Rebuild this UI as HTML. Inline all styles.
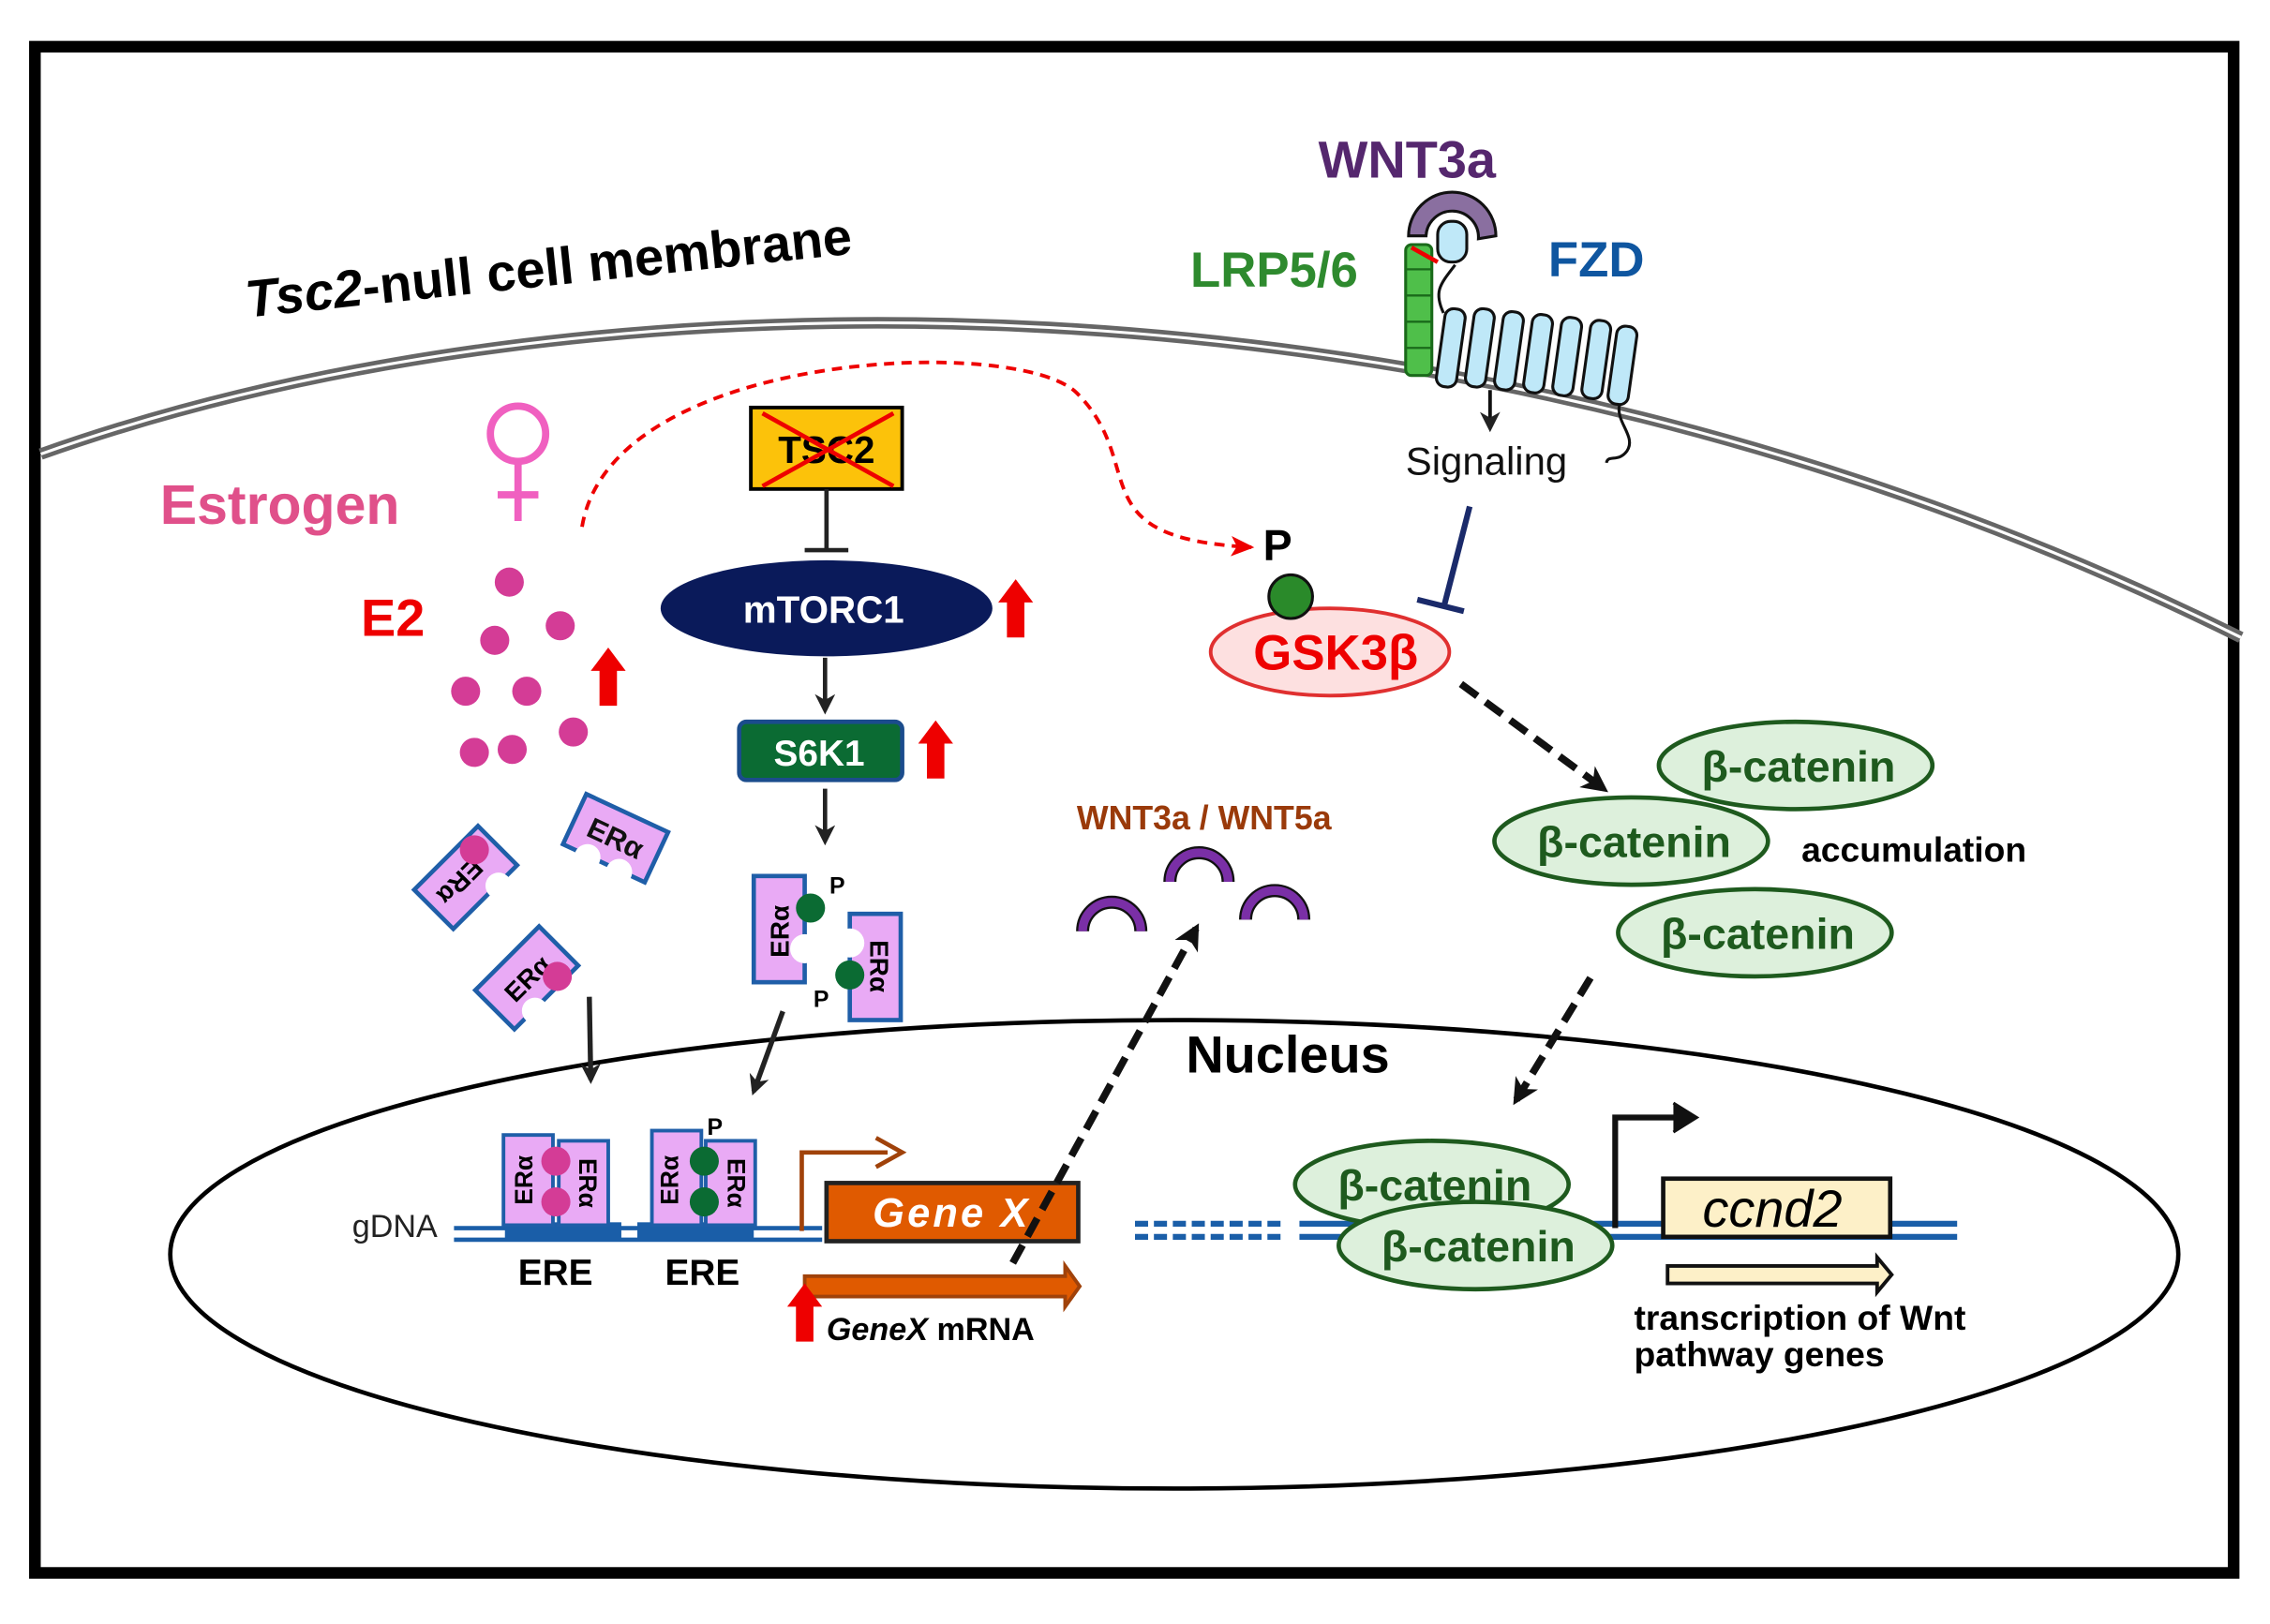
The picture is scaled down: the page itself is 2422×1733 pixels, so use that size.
<!DOCTYPE html>
<html><head><meta charset="utf-8"><style>html,body{margin:0;padding:0;background:#fff}svg{display:block}text{font-family:"Liberation Sans",sans-serif}</style></head>
<body>
<svg width="2422" height="1733" viewBox="0 0 1560 1116" xmlns="http://www.w3.org/2000/svg">
<defs>
<marker id="ab" markerWidth="14" markerHeight="14" refX="11" refY="7" orient="auto" markerUnits="userSpaceOnUse" viewBox="0 0 14 14"><path d="M0,0 L14,7 L0,14 L4,7z" fill="#222"/></marker>
<marker id="abk" markerWidth="18" markerHeight="18" refX="14" refY="9" orient="auto" markerUnits="userSpaceOnUse"><path d="M0,0 L18,9 L0,18 L5,9z" fill="#111"/></marker>
<marker id="ar" markerWidth="16" markerHeight="14" refX="14" refY="7" orient="auto" markerUnits="userSpaceOnUse"><path d="M0,0 L16,7 L0,14 L4,7z" fill="#e00"/></marker>
<g id="era">
<rect x="-31" y="-19" width="62" height="38" fill="#e9aaf5" stroke="#1f5ea8" stroke-width="3"/>
<circle cx="-12" cy="20" r="9" fill="#fff"/><circle cx="12" cy="20" r="9" fill="#fff"/>
<text x="0" y="7" font-size="20" font-weight="bold" text-anchor="middle" fill="#111">ERα</text>
</g>
<g id="up"><path d="M-6,0 L-6,-24 L-12,-24 L0,-40 L12,-24 L6,-24 L6,0z" fill="#e00"/></g>
</defs>
<rect x="24" y="32" width="1511" height="1049" fill="#fff" stroke="#000" stroke-width="8"/>
<!-- membrane -->
<path d="M28,312 C 400,180 1000,170 1540,438" fill="none" stroke="#666" stroke-width="8"/>
<path d="M28,312 C 400,180 1000,170 1540,438" fill="none" stroke="#fff" stroke-width="2"/>
<text x="170" y="218" font-size="36" font-weight="bold" transform="rotate(-6 170 218)"><tspan font-style="italic">Tsc2</tspan>-null cell membrane</text>
<!-- nucleus -->
<ellipse cx="807" cy="862" rx="690" ry="161" fill="none" stroke="#000" stroke-width="3"/>
<text x="815" y="737" font-size="36" font-weight="bold">Nucleus</text>
<!-- estrogen -->
<text x="110" y="360" font-size="38" font-weight="bold" fill="#e0508a">Estrogen</text>
<circle cx="356" cy="298" r="19" fill="none" stroke="#f060c0" stroke-width="5"/>
<path d="M356,317 V358 M342,340 H370" stroke="#f060c0" stroke-width="5"/>
<text x="248" y="437" font-size="36" font-weight="bold" fill="#e00">E2</text>
<g fill="#d43c96"><circle cx="350" cy="400" r="10"/><circle cx="340" cy="440" r="10"/><circle cx="385" cy="430" r="10"/><circle cx="320" cy="475" r="10"/><circle cx="362" cy="475" r="10"/><circle cx="326" cy="517" r="10"/><circle cx="352" cy="515" r="10"/><circle cx="394" cy="503" r="10"/></g>
<use href="#up" x="418" y="485"/>
<path d="M400,362 C 420,240 700,230 740,270 C 790,320 740,370 860,376" fill="none" stroke="#e00" stroke-width="2.5" stroke-dasharray="7,5" marker-end="url(#ar)"/>
<!-- TSC2 -->
<rect x="516" y="280" width="104" height="56" fill="#fcc20a" stroke="#000" stroke-width="2.5"/>
<text x="568" y="318" font-size="26" font-weight="bold" text-anchor="middle">TSC2</text>
<path d="M524,284 L614,334 M614,284 L524,334" stroke="#e00" stroke-width="3"/>
<path d="M568,336 V378 M553,378 H583" stroke="#222" stroke-width="3"/>
<ellipse cx="568" cy="418" rx="114" ry="33" fill="#0a1a5a"/>
<text x="566" y="428" font-size="26" font-weight="bold" fill="#fff" text-anchor="middle">mTORC1</text>
<use href="#up" x="698" y="438"/>
<path d="M567,452 V488" stroke="#222" stroke-width="3" marker-end="url(#ab)"/>
<rect x="508" y="496" width="112" height="40" rx="5" fill="#0b6b33" stroke="#1b4c8c" stroke-width="3"/>
<text x="563" y="526" font-size="25" font-weight="bold" fill="#fff" text-anchor="middle">S6K1</text>
<use href="#up" x="643" y="535"/>
<path d="M567,542 V578" stroke="#222" stroke-width="3" marker-end="url(#ab)"/>
<!-- phospho ERa dimer -->
<rect x="518" y="602" width="35" height="73" fill="#e9aaf5" stroke="#1f5ea8" stroke-width="3"/>
<rect x="584" y="628" width="35" height="73" fill="#e9aaf5" stroke="#1f5ea8" stroke-width="3"/>
<circle cx="553" cy="652" r="10" fill="#fff"/><circle cx="584" cy="648" r="10" fill="#fff"/>
<circle cx="557" cy="624" r="10" fill="#0b6b33"/><circle cx="584" cy="670" r="10" fill="#0b6b33"/>
<text x="542" y="640" font-size="18" font-weight="bold" transform="rotate(-90 542 640)" text-anchor="middle">ERα</text>
<text x="598" y="664" font-size="18" font-weight="bold" transform="rotate(90 598 664)" text-anchor="middle">ERα</text>
<text x="570" y="614" font-size="16" font-weight="bold">P</text><text x="559" y="692" font-size="16" font-weight="bold">P</text>
<path d="M538,695 L518,750" stroke="#222" stroke-width="3.5" marker-end="url(#ab)"/>
<!-- free ERa -->
<g transform="translate(423,576) rotate(25)"><use href="#era"/></g>
<g transform="translate(320,603) rotate(-45) scale(-1,1)"><rect x="-31" y="-19" width="62" height="38" fill="#e9aaf5" stroke="#1f5ea8" stroke-width="3"/><circle cx="-12" cy="20" r="9" fill="#fff"/></g>
<text x="320" y="612" font-size="18" font-weight="bold" text-anchor="middle" transform="rotate(135 318 605)">ERα</text>
<circle cx="326" cy="584" r="10" fill="#d43c96"/>
<g transform="translate(362,672) rotate(-45)"><rect x="-31" y="-19" width="62" height="38" fill="#e9aaf5" stroke="#1f5ea8" stroke-width="3"/><circle cx="-12" cy="20" r="9" fill="#fff"/><text x="0" y="7" font-size="18" font-weight="bold" text-anchor="middle">ERα</text></g>
<circle cx="383" cy="671" r="10" fill="#d43c96"/>
<path d="M405,685 L406,742" stroke="#222" stroke-width="3.5" marker-end="url(#ab)"/>
<!-- DNA left -->
<path d="M312,844 H565 M312,852 H565" stroke="#1a5ea8" stroke-width="3"/>
<text x="242" y="850" font-size="22" fill="#222">gDNA</text>
<rect x="347" y="840" width="80" height="12" fill="#1a5ea8"/><rect x="438" y="840" width="80" height="12" fill="#1a5ea8"/>
<rect x="346" y="780" width="34" height="62" fill="#e9aaf5" stroke="#1f5ea8" stroke-width="2.5"/>
<rect x="384" y="784" width="34" height="58" fill="#e9aaf5" stroke="#1f5ea8" stroke-width="2.5"/>
<circle cx="382" cy="798" r="10" fill="#d43c96"/><circle cx="382" cy="826" r="10" fill="#d43c96"/>
<text x="366" y="811" font-size="17" font-weight="bold" transform="rotate(-90 366 811)" text-anchor="middle">ERα</text>
<text x="398" y="813" font-size="17" font-weight="bold" transform="rotate(90 398 813)" text-anchor="middle">ERα</text>
<rect x="448" y="777" width="34" height="65" fill="#e9aaf5" stroke="#1f5ea8" stroke-width="2.5"/>
<rect x="485" y="784" width="34" height="58" fill="#e9aaf5" stroke="#1f5ea8" stroke-width="2.5"/>
<circle cx="484" cy="798" r="10" fill="#0b6b33"/><circle cx="484" cy="826" r="10" fill="#0b6b33"/>
<text x="466" y="811" font-size="17" font-weight="bold" transform="rotate(-90 466 811)" text-anchor="middle">ERα</text>
<text x="500" y="813" font-size="17" font-weight="bold" transform="rotate(90 500 813)" text-anchor="middle">ERα</text>
<text x="486" y="780" font-size="16" font-weight="bold">P</text>
<text x="356" y="883" font-size="25" font-weight="bold">ERE</text><text x="457" y="883" font-size="25" font-weight="bold">ERE</text>
<path d="M551,846 V792 H610" fill="none" stroke="#a0420a" stroke-width="3"/>
<path d="M602,782 L620,792 L602,802" fill="none" stroke="#a0420a" stroke-width="3"/>
<rect x="568" y="813" width="173" height="40" fill="#e05a00" stroke="#222" stroke-width="3"/>
<text x="654" y="843" font-size="28" font-weight="bold" font-style="italic" fill="#fff" text-anchor="middle" letter-spacing="2">Gene X</text>
<path d="M553,877 H732 V870 L742,884 L732,898 V891 H553z" fill="#e05a00" stroke="#a0420a" stroke-width="2.5"/>
<use href="#up" x="553" y="922"/>
<text x="568" y="921" font-size="22" font-weight="bold"><tspan font-style="italic">GeneX</tspan> mRNA</text>
<path d="M696,868 L822,638" stroke="#111" stroke-width="5" stroke-dasharray="14,7" marker-end="url(#abk)"/>
<!-- WNT -->
<text x="740" y="570" font-size="23" font-weight="bold" fill="#9a3a0a">WNT3a / WNT5a</text>
<g fill="none" stroke="#111" stroke-width="9"><path d="M744,640 A20,20 0 0 1 784,640"/><path d="M804,606 A20,20 0 0 1 844,606"/><path d="M856,632 A20,20 0 0 1 896,632"/></g>
<g fill="none" stroke="#7a2fa6" stroke-width="6"><path d="M744,640 A20,20 0 0 1 784,640"/><path d="M804,606 A20,20 0 0 1 844,606"/><path d="M856,632 A20,20 0 0 1 896,632"/></g>
<!-- receptor -->
<text x="906" y="122" font-size="36" font-weight="bold" fill="#55276e">WNT3a</text>
<text x="818" y="197" font-size="34" font-weight="bold" fill="#2e8a2e">LRP5/6</text>
<text x="1064" y="190" font-size="34" font-weight="bold" fill="#0f56a0">FZD</text>
<path d="M968,162 A30,30 0 0 1 1028,162 L1016,164 A18,18 0 0 0 980,162z" fill="#8a6fa0" stroke="#111" stroke-width="2"/>
<rect x="988" y="152" width="20" height="28" rx="9" fill="#bfe8f8" stroke="#111" stroke-width="2"/>
<rect x="966" y="168" width="18" height="90" rx="4" fill="#4fbf4a" stroke="#1a6a1a" stroke-width="2"/>
<path d="M966,185 H984 M966,203 H984 M966,221 H984 M966,239 H984" stroke="#1a6a1a" stroke-width="1.5"/>
<path d="M970,170 L988,180" stroke="#e00" stroke-width="3"/>
<path d="M1000,182 C 990,195 985,200 992,215" fill="none" stroke="#111" stroke-width="2"/>
<g fill="#bfe8f8" stroke="#111" stroke-width="2">
<rect x="990" y="212" width="14" height="54" rx="6" transform="rotate(8 997 239)"/>
<rect x="1010" y="212" width="14" height="54" rx="6" transform="rotate(8 1017 239)"/>
<rect x="1030" y="214" width="14" height="54" rx="6" transform="rotate(8 1037 241)"/>
<rect x="1050" y="216" width="14" height="54" rx="6" transform="rotate(8 1057 243)"/>
<rect x="1070" y="218" width="14" height="54" rx="6" transform="rotate(8 1077 245)"/>
<rect x="1090" y="220" width="14" height="54" rx="6" transform="rotate(8 1097 247)"/>
<rect x="1108" y="224" width="14" height="54" rx="6" transform="rotate(8 1115 251)"/>
</g>
<path d="M1113,278 C 1110,290 1125,300 1118,310 C 1112,318 1105,312 1104,318" fill="none" stroke="#111" stroke-width="2"/>
<path d="M1024,268 V294" stroke="#111" stroke-width="2.5" marker-end="url(#ab)"/>
<text x="966" y="326" font-size="27" fill="#111">Signaling</text>
<path d="M1010,348 L992,418 M974,412 L1006,420" stroke="#1a2a6a" stroke-width="4"/>
<!-- GSK3b -->
<ellipse cx="914" cy="448" rx="82" ry="30" fill="#fde0e0" stroke="#e03030" stroke-width="2.5"/>
<text x="918" y="460" font-size="34" font-weight="bold" fill="#e00" text-anchor="middle">GSK3β</text>
<circle cx="887" cy="410" r="15" fill="#2a8a2a" stroke="#111" stroke-width="2"/>
<text x="868" y="385" font-size="30" font-weight="bold">P</text>
<path d="M1004,470 L1102,542" stroke="#111" stroke-width="5" stroke-dasharray="14,7" marker-end="url(#abk)"/>
<!-- catenins -->
<g fill="#ddf0dc" stroke="#1e5a1e" stroke-width="3">
<ellipse cx="1234" cy="526" rx="94" ry="30"/><ellipse cx="1121" cy="578" rx="94" ry="30"/><ellipse cx="1206" cy="641" rx="94" ry="30"/>
</g>
<g font-size="30" font-weight="bold" fill="#1e5a1e" text-anchor="middle">
<text x="1236" y="537">β-catenin</text><text x="1123" y="589">β-catenin</text><text x="1208" y="652">β-catenin</text>
</g>
<text x="1238" y="592" font-size="24" font-weight="bold">accumulation</text>
<path d="M1093,672 L1042,756" stroke="#111" stroke-width="5" stroke-dasharray="14,7" marker-end="url(#abk)"/>
<!-- right DNA -->
<path d="M780,841 H880 M780,850 H880" stroke="#1a5ea8" stroke-width="4" stroke-dasharray="9,4"/>
<path d="M893,841 H1345 M893,850 H1345" stroke="#1a5ea8" stroke-width="4"/>
<path d="M1110,844 V768 H1158" fill="none" stroke="#111" stroke-width="4"/>
<path d="M1150,758 L1166,768 L1150,778" fill="#111" stroke="#111" stroke-width="2"/>
<rect x="1143" y="810" width="156" height="40" fill="#fdf0c8" stroke="#111" stroke-width="3"/>
<text x="1218" y="843" font-size="36" font-style="italic" text-anchor="middle">ccnd2</text>
<path d="M1146,870 H1290 V864 L1300,876 L1290,888 V882 H1146z" fill="#fdf0c8" stroke="#111" stroke-width="2.5"/>
<text x="1123" y="914" font-size="24" font-weight="bold">transcription of Wnt</text>
<text x="1123" y="939" font-size="24" font-weight="bold">pathway genes</text>
<g fill="#ddf0dc" stroke="#1e5a1e" stroke-width="3">
<ellipse cx="984" cy="814" rx="94" ry="30"/><ellipse cx="1014" cy="856" rx="94" ry="30"/>
</g>
<g font-size="30" font-weight="bold" fill="#1e5a1e" text-anchor="middle">
<text x="986" y="825">β-catenin</text><text x="1016" y="867">β-catenin</text>
</g>
</svg>
</body></html>
